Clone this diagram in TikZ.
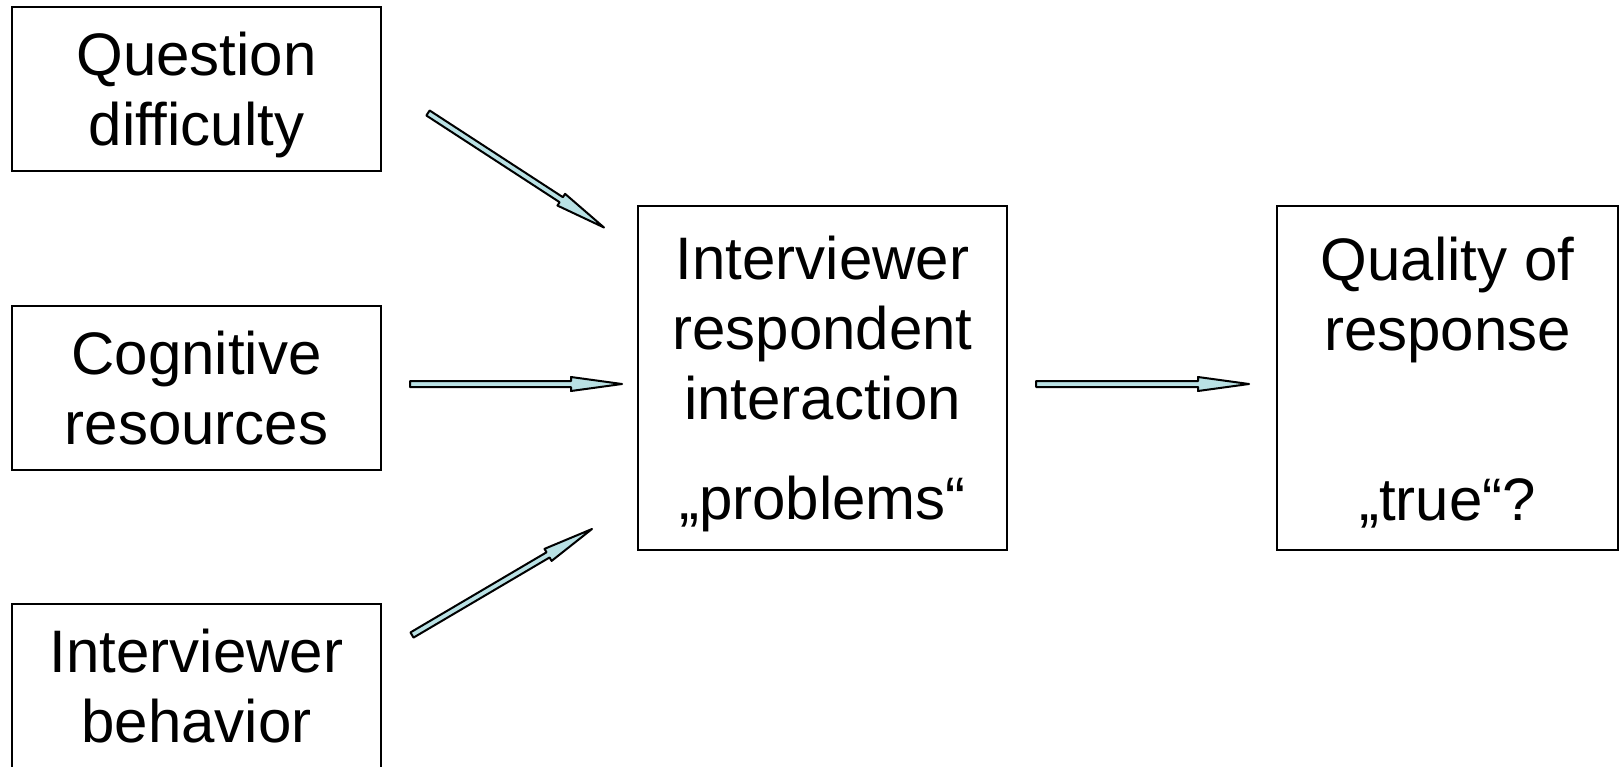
\documentclass[tikz,border=0pt]{standalone}
\usepackage{fontspec}
\setmainfont{Liberation Sans}
\usepackage{xcolor}
\usetikzlibrary{calc}

\definecolor{arrowfill}{RGB}{185,225,228}

\begin{document}
\begin{tikzpicture}
  [x=0.5pt,y=-0.5pt,
   box/.style={draw, line width=1pt, inner sep=0pt, align=center,
     font=\fontsize{30}{35}\selectfont, text height=56.5pt, text depth=0pt,
     minimum width=184.5pt, minimum height=82pt},
   bigbox/.style={box, minimum height=172pt, text height=141.5pt},
   % block arrow with a filled shaft and head
   blockarrow/.style={draw, fill=arrowfill, line width=1pt, line join=round,
     to path={-- ($(\tikztostart)!1.5pt!90:(\tikztotarget)$)
       -- ($(\tikztotarget)!25.5pt!(\tikztostart)!1.5pt!90:(\tikztotarget)$)
       -- ($(\tikztotarget)!25.5pt!(\tikztostart)!3.5pt!90:(\tikztotarget)$)
       -- (\tikztotarget)
       -- ($(\tikztotarget)!25.5pt!(\tikztostart)!3.5pt!-90:(\tikztotarget)$)
       -- ($(\tikztotarget)!25.5pt!(\tikztostart)!1.5pt!-90:(\tikztotarget)$)
       -- ($(\tikztostart)!1.5pt!-90:(\tikztotarget)$)
       -- cycle}}]
  \useasboundingbox[fill=white] (0,0) rectangle (1623,766);
  \clip (0,0) rectangle (1623,766);

  \node[box] (qd) at (196.5,89) {Question\\difficulty};
  \node[box] (cr) at (196.5,388) {Cognitive\\resources};
  \node[box] (ib) at (196.5,686) {Interviewer\\behavior};
  \node[bigbox] (ri) at (822.5,378) {Interviewer\\respondent\\interaction\\[15pt]„problems“};
  \node[bigbox, minimum width=170.5pt, text height=142pt] (qr) at (1447.5,378)
    {Quality of\\response\\[50pt]„true“?};

  % arrow ends
  \coordinate (qd-tail) at (428,113);
  \coordinate (qd-tip) at (604,227.5);
  \coordinate (cr-tail) at (410,384);
  \coordinate (cr-tip) at (622,384);
  \coordinate (ib-tail) at (412,635);
  \coordinate (ib-tip) at (592,529);
  \coordinate (ri-tail) at (1036,384);
  \coordinate (ri-tip) at (1249,384);

  \foreach \from/\to in {qd-tail/qd-tip, cr-tail/cr-tip, ib-tail/ib-tip, ri-tail/ri-tip}
  \draw[blockarrow] (\from) to (\to);
\end{tikzpicture}
\end{document}
